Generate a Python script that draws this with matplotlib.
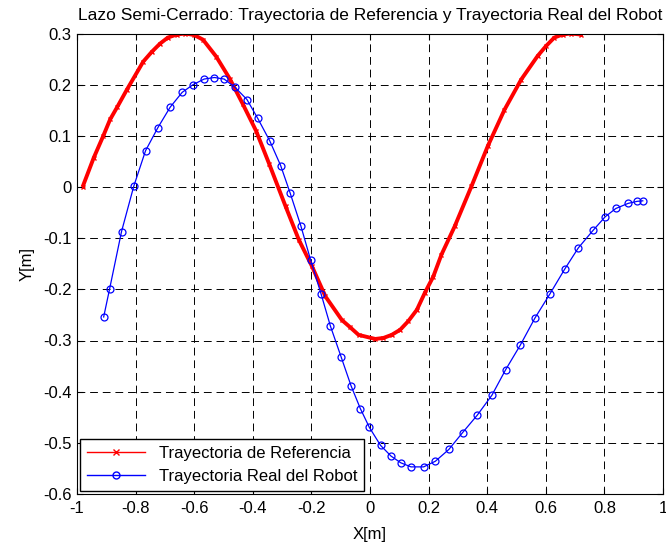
import numpy as np
import matplotlib
matplotlib.use('Agg')
import matplotlib.pyplot as plt
from matplotlib.lines import Line2D

# Reference trajectory
ref_x = [-0.981, -0.943, -0.911, -0.887, -0.862, -0.830, -0.774, -0.745, -0.717,
         -0.690, -0.660, -0.630, -0.600, -0.570, -0.525, -0.479, -0.434, -0.389,
         -0.344, -0.288, -0.243, -0.198, -0.152, -0.096, -0.068, -0.039, 0.018,
         0.046, 0.074, 0.103, 0.131, 0.160, 0.187, 0.216, 0.244, 0.289, 0.346,
         0.402, 0.459, 0.516, 0.572, 0.600, 0.629, 0.657, 0.685, 0.719]
ref_y = [0.000, 0.057, 0.099, 0.132, 0.157, 0.190, 0.245, 0.264, 0.280,
         0.292, 0.298, 0.300, 0.297, 0.288, 0.255, 0.212, 0.162, 0.110,
         0.045, -0.038, -0.103, -0.155, -0.214, -0.260, -0.274, -0.289, -0.297,
         -0.295, -0.289, -0.279, -0.262, -0.240, -0.207, -0.175, -0.132, -0.077, 0.001,
         0.080, 0.151, 0.210, 0.256, 0.275, 0.292, 0.298, 0.300, 0.298]

# Real robot trajectory
rob_x = [-0.909, -0.889, -0.848, -0.806, -0.766, -0.724, -0.682, -0.641, -0.604,
         -0.566, -0.531, -0.498, -0.461, -0.420, -0.383, -0.342, -0.305, -0.273,
         -0.236, -0.203, -0.167, -0.135, -0.098, -0.065, -0.033, -0.002, 0.036,
         0.072, 0.105, 0.140, 0.183, 0.223, 0.269, 0.316, 0.366, 0.416, 0.463,
         0.513, 0.563, 0.614, 0.664, 0.711, 0.761, 0.803, 0.839, 0.881, 0.912, 0.931]
rob_y = [-0.254, -0.200, -0.087, 0.002, 0.071, 0.116, 0.156, 0.185, 0.200,
         0.211, 0.214, 0.211, 0.195, 0.171, 0.134, 0.090, 0.042, -0.011,
         -0.076, -0.142, -0.209, -0.272, -0.333, -0.388, -0.433, -0.470, -0.505,
         -0.526, -0.539, -0.547, -0.547, -0.536, -0.513, -0.480, -0.446, -0.407, -0.357,
         -0.309, -0.256, -0.209, -0.161, -0.119, -0.085, -0.058, -0.042, -0.032, -0.028, -0.027]

x_ticks = [-1, -0.8, -0.6, -0.4, -0.2, 0, 0.2, 0.4, 0.6, 0.8, 1]
x_labels = ['-1', '-0.8', '-0.6', '-0.4', '-0.2', '0', '0.2', '0.4', '0.6', '0.8', '1']
y_ticks = [-0.6, -0.5, -0.4, -0.3, -0.2, -0.1, 0, 0.1, 0.2, 0.3]
y_labels = ['-0.6', '-0.5', '-0.4', '-0.3', '-0.2', '-0.1', '0', '0.1', '0.2', '0.3']

plt.rcParams['font.family'] = ['Liberation Sans', 'DejaVu Sans']
plt.rcParams['font.size'] = 12

fig = plt.figure(figsize=(6.66, 5.46), dpi=100)
ax = fig.add_axes([77/666, 52/546, 586/666, 460.5/546])

# thick red line stands in for the dense 'x' markers of the original
ax.plot(ref_x, ref_y, color='red', lw=2.8, marker='x', ms=2.5, mew=1,
        solid_joinstyle='round', solid_capstyle='butt')
ax.plot(rob_x, rob_y, color='blue', lw=0.9, marker='o', ms=5, mfc='none', mew=0.9)

ax.set_xlim(-1, 1)
ax.set_ylim(-0.6, 0.3)
ax.set_xticks(x_ticks)
ax.set_xticklabels(x_labels)
ax.set_yticks(y_ticks)
ax.set_yticklabels(y_labels)
ax.tick_params(direction='in', top=True, right=True, length=4)
ax.tick_params(axis='y', pad=4)
ax.tick_params(axis='x', pad=5)
ax.grid(True, color='black', linestyle=(0, (8, 5)), linewidth=0.7)

ax.set_xlabel('X[m]', labelpad=8)
ax.set_ylabel('Y[m]', labelpad=6)
ax.set_title('Lazo Semi-Cerrado: Trayectoria de Referencia y Trayectoria Real del Robot',
             fontsize=12.5, pad=10)

handles = [Line2D([], [], color='red', lw=1, marker='x', ms=4),
           Line2D([], [], color='blue', lw=1, marker='o', ms=5, mfc='none')]
leg = ax.legend(handles, ['Trayectoria de Referencia', 'Trayectoria Real del Robot'],
                loc='lower left', fancybox=False, edgecolor='black', framealpha=1,
                borderaxespad=0.2, handlelength=3.5)
leg.get_frame().set_linewidth(1.0)

fig.savefig('out.png', dpi=100)
